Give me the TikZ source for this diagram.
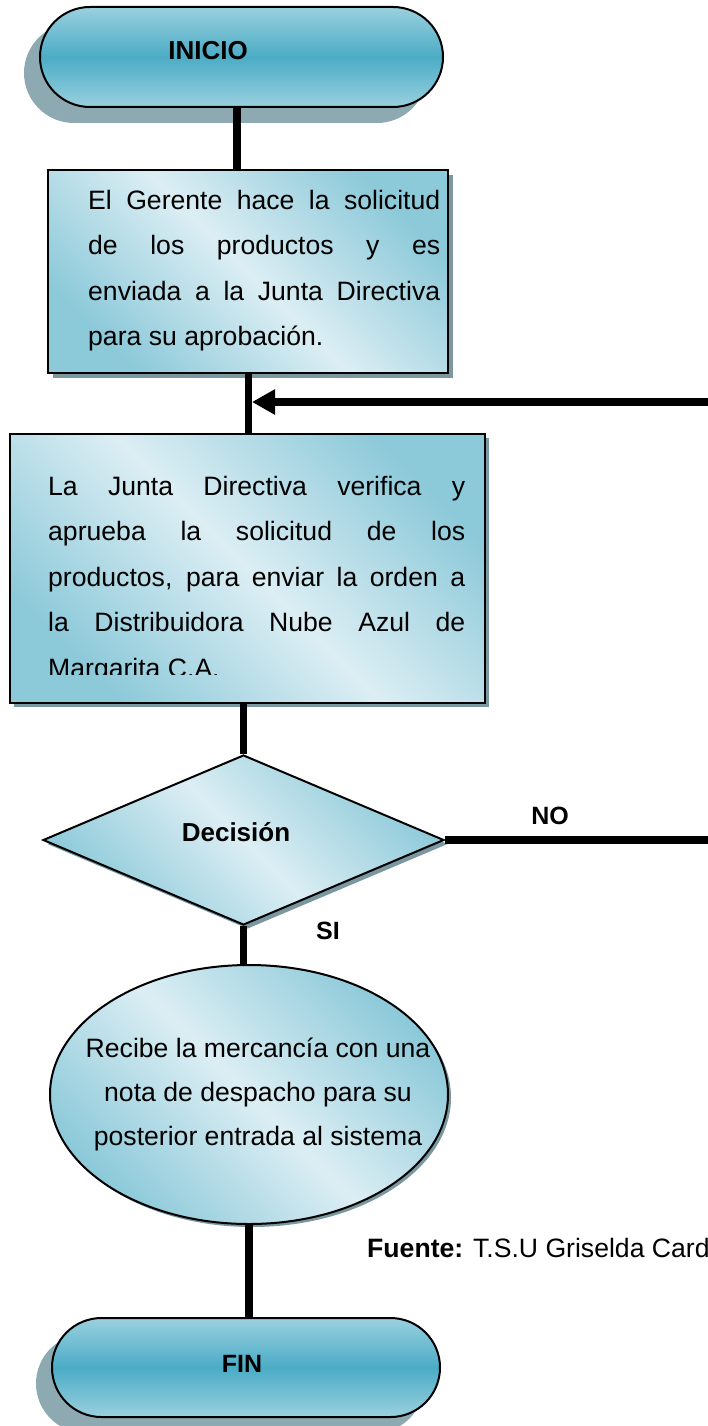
\documentclass[tikz,border=0pt]{standalone}
\usepackage{fontspec}
\setmainfont{Liberation Sans}
\usetikzlibrary{shapes.misc,shapes.geometric,shadows,arrows.meta}
\definecolor{termlight}{HTML}{9AD0DF}
\definecolor{termdark}{HTML}{4BACC6}
\definecolor{termshadow}{HTML}{8DA9B1}
\definecolor{boxlight}{HTML}{DCEEF4}
\definecolor{boxdark}{HTML}{8CC9D9}
\definecolor{boxshadowcol}{HTML}{7B98A1}
\begin{document}
\begin{tikzpicture}[x=1pt,y=-1pt,
  terminal/.style={rounded rectangle, draw=black, line width=2pt,
    top color=termlight, bottom color=termlight, middle color=termdark,
    inner sep=0pt,
    general shadow={fill=termshadow, shadow xshift=-16pt, shadow yshift=-16pt}},
  procshape/.style={draw=black, line width=2pt,
    top color=boxdark, bottom color=boxdark, middle color=boxlight,
    shading angle=-45, inner sep=0pt},
  bshadow/.style={general shadow={fill=boxshadowcol, shadow xshift=#1, shadow yshift=-#1}},
  conn/.style={draw=black, line width=7.5pt},
  body/.style={inner sep=0pt, font=\fontsize{26.6pt}{45.5pt}\selectfont},
  lbl/.style={inner sep=0pt, anchor=base, font=\bfseries\fontsize{25pt}{30pt}\selectfont},
  biglbl/.style={lbl, font=\bfseries\fontsize{26pt}{30pt}\selectfont}
]
\useasboundingbox (0,0) rectangle (708,1426);

% start terminal
\node[terminal, minimum width=403pt, minimum height=100pt] (t1) at (241.5,57) {};
\node[biglbl] (t1l) at (208,59.3) {INICIO};

% first process box
\node[procshape, bshadow=5pt, rectangle, minimum width=400pt, minimum height=203pt] (b1) at (248,271.5) {};
\node[body, anchor=base west] (b1t) at (88,209) {\parbox[t]{352pt}{%
\makebox[352pt][s]{El Gerente hace la solicitud}\\
\makebox[352pt][s]{de los productos y es}\\
\makebox[352pt][s]{enviada a la Junta Directiva}\\
para su aprobación.}};

% second process box
\node[procshape, bshadow=4pt, rectangle, minimum width=475pt, minimum height=269pt] (b2) at (247.5,568.5) {};
\begin{scope}
\clip (0,434) rectangle (708,674);
\node[body, anchor=base west] (b2t) at (48,495) {\parbox[t]{417pt}{%
\makebox[417pt][s]{La Junta Directiva verifica y}\\
\makebox[417pt][s]{aprueba la solicitud de los}\\
\makebox[417pt][s]{productos, para enviar la orden a}\\
\makebox[417pt][s]{la Distribuidora Nube Azul de}\\
Margarita C.A.}};
\end{scope}

% decision
\node[procshape, bshadow=4pt, diamond, minimum width=401pt, minimum height=170pt] (d) at (243.5,840) {};
\node[biglbl] (dl) at (236,841) {Decisión};
\node[lbl] (no) at (550,824) {NO};
\node[lbl] (si) at (328,939) {SI};

% ellipse
\node[procshape, bshadow=3pt, ellipse, minimum width=398pt, minimum height=259pt] (e) at (249,1094.5) {};
\node[body, anchor=base, font=\fontsize{26.6pt}{44pt}\selectfont] (et) at (258,1057) {\parbox[t]{390pt}{\centering
Recibe la mercancía con una\\
nota de despacho para su\\
posterior entrada al sistema}};

% source note
\node[body, anchor=base west, font=\fontsize{26.6pt}{30pt}\selectfont] (src) at (367,1257) {\textbf{Fuente:} T.S.U Griselda Card};

% end terminal
\node[terminal, minimum width=388pt, minimum height=99pt] (f) at (246,1367.5) {};
\node[lbl] (fl) at (242,1372.7) {FIN};

% connectors
\coordinate (k1) at (237,0);
\coordinate (k2) at (248.5,0);
\coordinate (k3) at (252,0);
\coordinate (r1) at (708,402);
\coordinate (r2) at (708,840);
\draw[conn] (t1.south -| k1) -- (b1.north -| k1);
\draw[conn] (b1.south -| k2) -- (b2.north -| k2);
\draw[conn, -{Triangle[length=23pt, width=24pt]}] (r1) -- (r1 -| k3);
\draw[conn] (b2.south -| d.north) -- (d.north);
\draw[conn] (d.east) -- (r2);
\draw[conn] (d.south) -- (e.north -| d.south);
\draw[conn] (e.south) -- (f.north -| e.south);
\end{tikzpicture}
\end{document}
